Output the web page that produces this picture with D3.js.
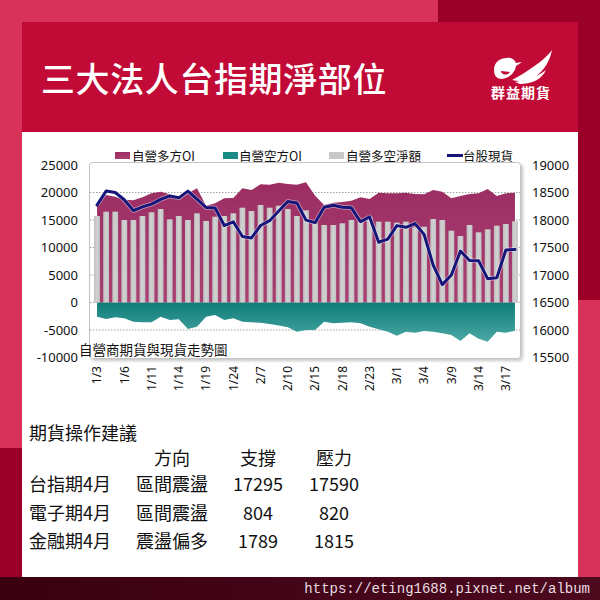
<!DOCTYPE html>
<html><head><meta charset="utf-8">
<script src="https://cdn.jsdelivr.net/npm/d3@7"></script>
<style>
html,body{margin:0;padding:0;background:#d8325b;}
svg{display:block;font-family:"Noto Sans CJK TC","Noto Sans",sans-serif;}
</style></head>
<body>
<svg id="chart" width="600" height="600"></svg>
<script>
// ---- data ----
const dates = ['1/3','1/4','1/5','1/6','1/7','1/10','1/11','1/12','1/13','1/14','1/17','1/18','1/19','1/20','1/21','1/24','1/25','1/26',
 '2/7','2/8','2/9','2/10','2/11','2/14','2/15','2/16','2/17','2/18','2/21','2/22','2/23','2/24','2/25',
 '3/1','3/2','3/3','3/4','3/7','3/8','3/9','3/10','3/11','3/14','3/15','3/16','3/17','3/18'];
const longOI = [17800,19545,19236,18700,18600,19127,19850,20150,19670,18850,19850,20760,17600,18036,18940,19000,20760,20450,
 21490,21400,21780,21560,21400,21850,19400,17727,18145,18255,18509,19127,18800,19970,19850,
 19850,19970,19730,19670,20450,20150,18940,19360,19730,19850,20630,19360,19850,19970];
const shortOI = [-2580,-3000,-2700,-2880,-3490,-3600,-3600,-2580,-3180,-3060,-4820,-4400,-2580,-2270,-3180,-2880,-3490,-3600,
 -3660,-3900,-4200,-4500,-5300,-5000,-5000,-3490,-3790,-3690,-3600,-3790,-4400,-4850,-5300,
 -6030,-5300,-5500,-5200,-5300,-5600,-5900,-7000,-5600,-6600,-7120,-5300,-5500,-5120];
const netOI = [15727,16515,16515,15000,15000,15727,16400,17000,15120,15727,15000,16218,14818,15600,15727,16218,17240,16636,
 17727,17240,17600,17000,15727,16757,14400,14090,14090,14400,15000,14700,15600,14700,14700,
 14520,14700,13670,13780,15180,15000,13060,12090,14090,12760,13300,13970,14270,14760];
const taiex = [18271,18526,18500,18368,18170,18239,18288,18375,18437,18403,18525,18379,18227,18218,17899,17967,17701,17674,
 17900,17988,18164,18338,18311,17998,17952,18231,18269,18232,18221,17969,18056,17595,17652,
 17898,17867,17934,17737,17179,16825,17000,17434,17265,17259,16930,16950,17456,17464];
const leftTicks = [25000,20000,15000,10000,5000,0,-5000,-10000];
const rightTicks = [19000,18500,18000,17500,17000,16500,16000,15500];
const seriesNames = ['自營多方OI','自營空方OI','自營多空淨額','台股現貨'];
const title = '三大法人台指期淨部位';
const subTitle = '自營商期貨與現貨走勢圖';
const logoText = '群益期貨';
const tableTitle = '期貨操作建議';
const tableHead = ['方向','支撐','壓力'];
const tableRows = [
  ['台指期4月','區間震盪','17295','17590'],
  ['電子期4月','區間震盪','804','820'],
  ['金融期4月','震盪偏多','1789','1815']
];
const url = 'https://eting1688.pixnet.net/album';

// ---- drawing ----
const svg = d3.select('#chart');
const defs = svg.append('defs');
const numFont = '"Noto Sans","Noto Sans CJK TC",sans-serif';

// background blocks
svg.append('rect').attr('x',0).attr('y',0).attr('width',600).attr('height',600).attr('fill','#d8325b');
svg.append('rect').attr('x',438).attr('y',0).attr('width',162).attr('height',22).attr('fill','#9b0029');
svg.append('rect').attr('x',578).attr('y',0).attr('width',22).attr('height',300).attr('fill','#9b0029');
svg.append('rect').attr('x',0).attr('y',448).attr('width',22).attr('height',130).attr('fill','#9b0029');
svg.append('rect').attr('x',22).attr('y',22).attr('width',556).attr('height',110).attr('fill','#c10a36');
svg.append('rect').attr('x',22).attr('y',132).attr('width',556).attr('height',446).attr('fill','#ffffff');
const bandGrad = defs.append('linearGradient').attr('id','band').attr('x1',0).attr('x2',1).attr('y1',0).attr('y2',0);
bandGrad.append('stop').attr('offset','0%').attr('stop-color','#3a0010');
bandGrad.append('stop').attr('offset','100%').attr('stop-color','#4c0a1f');
svg.append('rect').attr('x',0).attr('y',577).attr('width',600).attr('height',23).attr('fill','url(#band)');

// title
svg.append('text').attr('x',41).attr('y',92).attr('fill','#fff').attr('font-size',34).attr('font-weight',500)
  .attr('letter-spacing',0.6).text(title);

// logo
const logo = svg.append('g').attr('fill','#fff');
logo.append('path').attr('d','M494,70 C494,62 500,58 507,58 C511,57 515,60 516,63 L522,62 L516,66 C515,72 510,78 502,79 C497,79 494,76 494,70 Z M501,71 C501,75 507,76 510,72 Z');
logo.append('path').attr('d','M512,80 C520,76 532,68 540,62 C545,58 549,54 552,50 C550,60 545,70 535,77 C528,81 520,82 512,80 Z');
logo.append('path').attr('d','M515,82 C525,80 536,78 546,70 C542,79 532,84 520,84 Z');
logo.append('text').attr('x',521).attr('y',98).attr('text-anchor','middle').attr('font-size',14)
  .attr('font-weight',700).attr('letter-spacing',1).text(logoText);

// scales
const x = d3.scaleBand().domain(dates).range([92.5,519.5]).paddingInner(0.36).paddingOuter(0.18);
const xc = d => x(d) + x.bandwidth()/2;
const yL = d3.scaleLinear().domain([-10000,25000]).range([357.5,165]);
const yR = d3.scaleLinear().domain([15500,19000]).range([357.5,165]);

// plot frame with shadow
const sh = defs.append('filter').attr('id','shadow').attr('x','-5%').attr('y','-5%').attr('width','110%').attr('height','115%');
sh.append('feDropShadow').attr('dx',2).attr('dy',2).attr('stdDeviation',1.5).attr('flood-color','#000').attr('flood-opacity',0.22);
svg.append('rect').attr('x',89.5).attr('y',162.5).attr('width',431).attr('height',196).attr('rx',3)
  .attr('fill','#fff').attr('stroke','#c4c4c4').attr('stroke-width',1).attr('filter','url(#shadow)');

// gridlines
svg.append('g').selectAll('line').data(leftTicks.filter(t => t>-10000 && t<25000)).join('line')
  .attr('x1',90).attr('x2',520).attr('y1',d=>yL(d)).attr('y2',d=>yL(d))
  .attr('stroke','#8a8a8a').attr('stroke-width',0.8).attr('stroke-dasharray','1.5,1.5');

// gradients
const gL = defs.append('linearGradient').attr('id','gLong').attr('x1',0).attr('x2',0).attr('y1',0).attr('y2',1);
gL.append('stop').attr('offset','0%').attr('stop-color','#9b2d62');
gL.append('stop').attr('offset','100%').attr('stop-color','#aa3f72');
const gS = defs.append('linearGradient').attr('id','gShort').attr('x1',0).attr('x2',0).attr('y1',0).attr('y2',1);
gS.append('stop').attr('offset','0%').attr('stop-color','#0f7c79');
gS.append('stop').attr('offset','100%').attr('stop-color','#4aa8a5');
const gN = defs.append('linearGradient').attr('id','gNet').attr('x1',0).attr('x2',1).attr('y1',0).attr('y2',0);
gN.append('stop').attr('offset','0%').attr('stop-color','#bdbdbd');
gN.append('stop').attr('offset','50%').attr('stop-color','#d2d2d2');
gN.append('stop').attr('offset','100%').attr('stop-color','#c0c0c0');

// long area
const areaL = d3.area().x((d,i)=>xc(dates[i])).y0(yL(0)).y1(d=>yL(d));
svg.append('path').datum(longOI).attr('d',areaL).attr('fill','url(#gLong)');
// short area
svg.append('path').datum(shortOI).attr('d',areaL).attr('fill','url(#gShort)');

// net bars
svg.append('g').selectAll('rect').data(netOI).join('rect')
  .attr('x',(d,i)=>x(dates[i])).attr('width',x.bandwidth())
  .attr('y',d=>yL(Math.max(0,d))).attr('height',d=>Math.abs(yL(d)-yL(0)))
  .attr('fill','url(#gNet)');

// line
const line = d3.line().x((d,i)=>xc(dates[i])).y(d=>yR(d));
svg.append('path').datum(taiex).attr('d',line).attr('fill','none').attr('stroke','#ffffff')
  .attr('stroke-opacity',0.5).attr('stroke-width',4.5).attr('stroke-linejoin','round');
svg.append('path').datum(taiex).attr('d',line).attr('fill','none').attr('stroke','#15157a')
  .attr('stroke-width',3).attr('stroke-linejoin','round').attr('stroke-linecap','round');

// axes
const axL = d3.axisLeft(yL).tickValues(leftTicks).tickSize(0).tickPadding(0).tickFormat(d=>String(d));
const gAL = svg.append('g').attr('transform','translate(78,0)').call(axL);
gAL.select('.domain').remove();
gAL.selectAll('text').attr('font-size',13).attr('fill','#111').style('font-family',numFont);

const axR = d3.axisRight(yR).tickValues(rightTicks).tickSize(0).tickPadding(0).tickFormat(d=>String(d));
const gAR = svg.append('g').attr('transform','translate(532,0)').call(axR);
gAR.select('.domain').remove();
gAR.selectAll('text').attr('font-size',13).attr('fill','#111').style('font-family',numFont);

const axB = d3.axisBottom(x).tickValues(dates.filter((d,i)=>i%3===0)).tickSize(0).tickPadding(0);
const gAB = svg.append('g').attr('transform','translate(0,366)').call(axB);
gAB.select('.domain').remove();
gAB.selectAll('text').attr('font-size',12).attr('fill','#111').style('font-family',numFont)
  .attr('transform','rotate(-90)').attr('text-anchor','end').attr('dy','0.35em').attr('x',0).attr('y',0);

// subtitle inside plot
svg.append('text').attr('x',79).attr('y',349).attr('dominant-baseline','central').attr('font-size',13.5)
  .attr('fill','#111').text(subTitle);

// legend
const legend = svg.append('g');
const legItems = [
  {x:115, type:'rect', fill:'url(#gLong)', tx:132},
  {x:223, type:'rect', fill:'#1a8a86', tx:239},
  {x:329, type:'rect', fill:'#c8c8c8', tx:346},
  {x:447, type:'line', fill:'#15157a', tx:463}
];
legItems.forEach((it,i)=>{
  if(it.type==='rect') legend.append('rect').attr('x',it.x).attr('y',152).attr('width',15).attr('height',7).attr('fill',it.fill);
  else legend.append('line').attr('x1',it.x).attr('x2',it.x+16).attr('y1',155.5).attr('y2',155.5).attr('stroke',it.fill).attr('stroke-width',3);
  legend.append('text').attr('x',it.tx).attr('y',155.5).attr('dominant-baseline','central').attr('font-size',12.5)
    .attr('fill','#111').text(seriesNames[i]);
});

// table
const tbl = svg.append('g').attr('fill','#111').attr('font-size',18);
tbl.append('text').attr('x',29).attr('y',432).attr('dominant-baseline','central').text(tableTitle);
const colX = [172,258,334];
tableHead.forEach((h,i)=>tbl.append('text').attr('x',colX[i]).attr('y',457).attr('text-anchor','middle')
  .attr('dominant-baseline','central').text(h));
const rowY = [483,512,540];
tableRows.forEach((r,ri)=>{
  tbl.append('text').attr('x',29).attr('y',rowY[ri]).attr('dominant-baseline','central').text(r[0]);
  r.slice(1).forEach((c,ci)=>tbl.append('text').attr('x',colX[ci]).attr('y',rowY[ri]).attr('text-anchor','middle')
    .attr('dominant-baseline','central').text(c));
});

// url
svg.append('text').attr('x',590).attr('y',589).attr('text-anchor','end').attr('dominant-baseline','central')
  .attr('font-size',14).attr('fill','#e8dce2').style('font-family','"Liberation Mono","DejaVu Sans Mono",monospace')
  .text(url);
</script>
</body></html>
